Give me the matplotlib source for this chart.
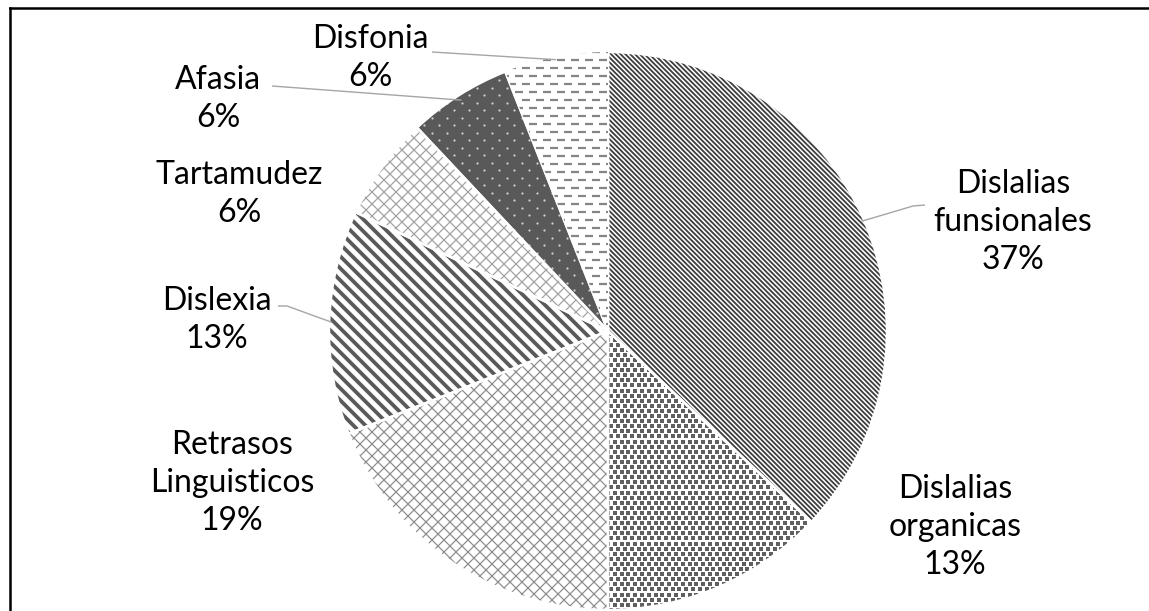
import matplotlib
matplotlib.use("Agg")
import matplotlib.pyplot as plt
import numpy as np
from matplotlib.collections import LineCollection

# ---- data ----
categories = ["Dislalias\nfunsionales", "Dislalias\norganicas", "Retrasos\nLinguisticos",
              "Dislexia", "Tartamudez", "Afasia", "Disfonia"]
percent = [37, 13, 19, 13, 6, 6, 6]

# ---- layout / style ----
W, H, DPI = 1149, 611, 72
fig = plt.figure(figsize=(W / DPI, H / DPI), dpi=DPI)
ax = fig.add_axes([0, 0, 1, 1])

def Y(ytop):
    return H - ytop

cx, cy, R = 608, Y(331), 279

face = ['white', 'white', 'white', 'white', 'white', '#595959', 'white']
hatches = ['\\' * 5, None, 'xx', '\\\\', 'xx', None, None]
hcol = ['#3c3c3c', '#ffffff', '#8a8a8a', '#5a5a5a', '#a0a0a0', '#595959', '#ffffff']
hlw = [1.8, 1.0, 1.2, 3.8, 1.2, 1.0, 1.0]

wedges, _ = ax.pie(percent, startangle=90, counterclock=False, center=(cx, cy), radius=R,
                   wedgeprops=dict(linewidth=0))
for w, fc, hc, ht, lw in zip(wedges, face, hcol, hatches, hlw):
    w.set_facecolor(fc)
    w.set_edgecolor(hc)
    w.set_linewidth(0)
    if ht:
        w.set_hatch(ht)
        if hasattr(w, "set_hatch_linewidth"):
            w.set_hatch_linewidth(lw)
        else:
            w._hatch_linewidth = lw

def pattern_points(dx, dy, off):
    xs, ys = [], []
    for j, yy in enumerate(np.arange(cy - R - 10, cy + R + 10, dy)):
        xx = np.arange(cx - R - 10, cx + R + 10, dx) + (off if j % 2 else 0)
        xs.append(xx)
        ys.append(np.full_like(xx, yy))
    return np.concatenate(xs), np.concatenate(ys)

# Dislalias organicas: dense small squares
px, py = pattern_points(6.8, 5.1, 3.4)
sc = ax.scatter(px, py, s=10.5, marker='s', color='#606060', linewidths=0)
sc.set_clip_path(wedges[1])

# Afasia: white dots on dark grey
px, py = pattern_points(15, 7.5, 7.5)
sc = ax.scatter(px, py, s=5, marker='o', color='#d0d0d0', linewidths=0)
sc.set_clip_path(wedges[5])

# Disfonia: horizontal dashes
segs = []
for j, yy in enumerate(np.arange(cy - R - 10, cy + R + 10, 8)):
    for xx in np.arange(cx - R - 10, cx + R + 10, 14) + (7 if j % 2 else 0):
        segs.append([(xx, yy), (xx + 8, yy)])
lc = LineCollection(segs, colors='#858585', linewidths=2.2)
ax.add_collection(lc)
lc.set_clip_path(wedges[6])

# white separators
ax.pie(percent, startangle=90, counterclock=False, center=(cx, cy), radius=R,
       wedgeprops=dict(linewidth=2.5, edgecolor='white', facecolor='none'))

ax.set_xlim(0, W)
ax.set_ylim(0, H)
ax.set_aspect('equal')
ax.axis('off')

# ---- labels ----
label_pos = [(1013, 222), (955, 527), (232, 483), (217, 320), (239, 194), (218, 99), (370, 58)]
font = dict(family=['Lato', 'DejaVu Sans'], fontsize=32, color='black')
for name, p, (lx, ly) in zip(categories, percent, label_pos):
    ax.text(lx, Y(ly), f"{name}\n{p}%", ha='center', va='center', multialignment='center',
            linespacing=1.35, **font)

def edge_point(w, frac=1.0):
    a = np.deg2rad((w.theta1 + w.theta2) / 2)
    return cx + frac * R * np.cos(a), cy + frac * R * np.sin(a)

lead = dict(color='#a6a6a6', lw=1.4, solid_capstyle='butt')
# Disfonia
ex, ey = edge_point(wedges[6], 0.99)
ax.plot([432, ex], [Y(52), ey], **lead)
# Afasia
ex, ey = edge_point(wedges[5], 0.98)
ax.plot([272, ex], [Y(86), ey], **lead)
# Dislexia
ex, ey = edge_point(wedges[3], 0.99)
ax.plot([278, 287, ex], [Y(306), Y(306), ey], **lead)
# Dislalias funsionales
ex, ey = edge_point(wedges[0], 0.99)
ax.plot([ex, 913, 925], [ey, Y(206), Y(205)], **lead)

# frame (top and left edges visible)
ax.plot([10, W], [Y(7.5), Y(7.5)], color='black', lw=2.5, clip_on=False)
ax.plot([10, 10], [Y(7.5), 0], color='black', lw=2.5, clip_on=False)

fig.savefig("out.png", dpi=DPI)
